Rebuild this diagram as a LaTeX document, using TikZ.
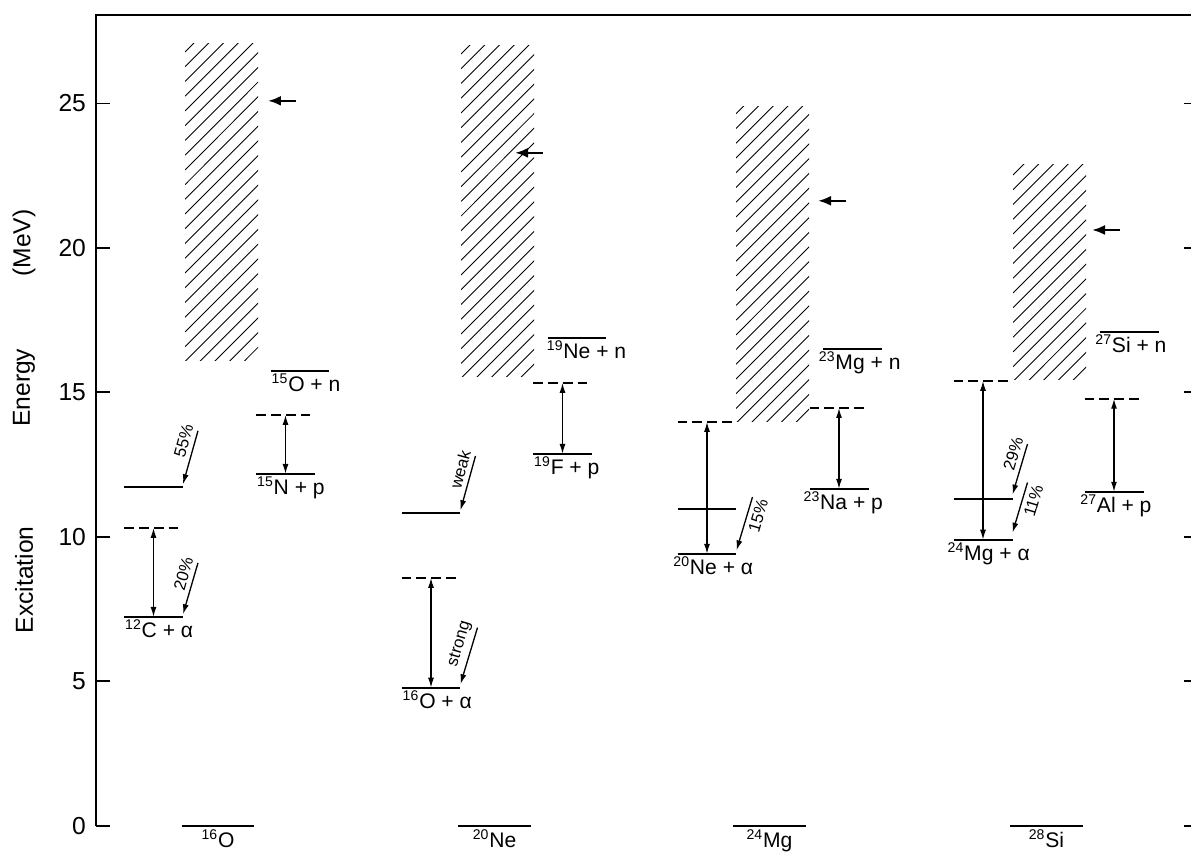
\documentclass[tikz,border=0pt]{standalone}
\usepackage{fontspec}
\setmainfont{Liberation Sans}
\usetikzlibrary{arrows.meta}

\begin{document}
\begin{tikzpicture}[x=0.02cm,y=0.578cm,font=\fontsize{12}{14}\selectfont,
  lvl/.style={inner sep=0pt,outer sep=0pt,minimum height=0pt,minimum width=1.18cm},
  gnd/.style={lvl,minimum width=1.46cm},
  lvline/.style={line width=1.1pt},
  thrline/.style={line width=1.1pt,dash pattern=on 5.5pt off 3pt},
  pair/.style={line width=0.75pt,{Latex[length=2mm,width=1.2mm]}-{Latex[length=2mm,width=1.2mm]}},
  feed/.style={line width=0.75pt,-{Latex[length=2mm,width=1.2mm]}},
  gdr/.style={line width=1.4pt,-{Latex[length=2.6mm,width=2mm]}},
  hatch/.style={line width=0.5pt},
  chan/.style={anchor=north west,inner sep=1.5pt},
  pct/.style={font=\fontsize{9.5}{11}\selectfont,sloped,inner sep=2.5pt},
  num/.style={font=\fontsize{14}{16}\selectfont,anchor=east,inner sep=1pt}]
  \useasboundingbox (0,-0.969) rectangle (1191,28.58);

  % frame and scale
  \draw[line width=1.1pt] (96,0) -- (96,28.05) -- (1191,28.05);
  \foreach \e in {0,5,...,25}{
    \draw[line width=1pt] (96,\e) -- (110,\e);
    \draw[line width=1pt] (1184,\e) -- (1191,\e);
    \node[num] (t\e) at (88,\e) {\e};
  }
  \node[rotate=90,font=\fontsize{14}{16}\selectfont] (xlab) at (24,8.51) {Excitation};
  \node[rotate=90,font=\fontsize{14}{16}\selectfont] (elab) at (24,15.16) {Energy};
  \node[rotate=90,font=\fontsize{14}{16}\selectfont] (mlab) at (24,20.17) {(MeV)};

  % giant resonance regions
  \foreach \x/\lo/\hi in {185/16.12/27.09,461/15.54/26.99,736/13.98/24.9,1013/15.43/22.87}{
    \begin{scope}
      \clip (\x,\lo) rectangle (\x+73,\hi);
      \foreach \k in {0,...,30}
        \draw[hatch] (\x,\lo-2.6+\k*0.51) -- ++(80,2.77);
    \end{scope}
  }
  \foreach \n/\x/\e in {a/268/25.09,b/515/23.29,c/818/21.63,d/1092/20.62}{
    \coordinate (gt\n) at (\x,\e);
    \coordinate (gs\n) at (\x+28,\e);
    \draw[gdr] (gs\n) -- (gt\n);
  }

  % ground states
  \node[gnd] (O16g) at (218,0) {};
  \node[gnd] (Ne20g) at (494.5,0) {};
  \node[gnd] (Mg24g) at (769.5,0) {};
  \node[gnd] (Si28g) at (1046.5,0) {};
  \node[anchor=north,inner sep=2pt] (O16gL) at (O16g.south) {\textsuperscript{16}O};
  \node[anchor=north,inner sep=2pt] (Ne20gL) at (Ne20g.south) {\textsuperscript{20}Ne};
  \node[anchor=north,inner sep=2pt] (Mg24gL) at (Mg24g.south) {\textsuperscript{24}Mg};
  \node[anchor=north,inner sep=2pt] (Si28gL) at (Si28g.south) {\textsuperscript{28}Si};

  % levels and thresholds
  \node[lvl] (o55) at (153.5,11.73) {};
  \node[lvl] (cthr) at (153.5,10.31) {};
  \node[lvl] (c12a) at (153.5,7.23) {};
  \node[lvl] (o15n) at (300,15.74) {};
  \node[lvl] (nthr) at (285.5,14.22) {};
  \node[lvl] (n15p) at (285.5,12.18) {};
  \node[lvl] (neweak) at (431,10.83) {};
  \node[lvl] (othr) at (431,8.58) {};
  \node[lvl] (o16a) at (431,4.78) {};
  \node[lvl] (ne19n) at (577,16.89) {};
  \node[lvl] (fthr) at (562.5,15.33) {};
  \node[lvl] (f19p) at (562.5,12.87) {};
  \node[lvl] (mgthr) at (707,13.98) {};
  \node[lvl] (mgmid) at (707,10.97) {};
  \node[lvl] (ne20a) at (707,9.41) {};
  \node[lvl] (mg23n) at (852.5,16.5) {};
  \node[lvl] (nathr) at (839,14.46) {};
  \node[lvl] (na23p) at (839,11.66) {};
  \node[lvl] (sithr) at (983,15.40) {};
  \node[lvl] (simid) at (983,11.31) {};
  \node[lvl] (mg24a) at (983,9.90) {};
  \node[lvl] (si27n) at (1129,17.09) {};
  \node[lvl] (althr) at (1114,14.78) {};
  \node[lvl] (al27p) at (1114,11.56) {};

  \foreach \n in {O16g,Ne20g,Mg24g,Si28g,o55,c12a,o15n,n15p,neweak,o16a,ne19n,f19p,
                  mgmid,ne20a,mg23n,na23p,simid,mg24a,si27n,al27p}
    \draw[lvline] (\n.west) -- (\n.east);
  \foreach \n in {cthr,nthr,othr,fthr,mgthr,nathr,sithr,althr}
    \draw[thrline] (\n.west) -- (\n.east);

  % channel labels
  \node[chan] (c12aL) at ([xshift=-1pt]c12a.west) {\textsuperscript{12}C + α};
  \node[chan] (o15nL) at ([xshift=-1pt]o15n.west) {\textsuperscript{15}O + n};
  \node[chan] (n15pL) at ([xshift=-1pt]n15p.west) {\textsuperscript{15}N + p};
  \node[chan] (o16aL) at ([xshift=-1pt]o16a.west) {\textsuperscript{16}O + α};
  \node[chan] (ne19nL) at ([xshift=-2pt]ne19n.west) {\textsuperscript{19}Ne + n};
  \node[chan] (f19pL) at ([xshift=-1pt]f19p.west) {\textsuperscript{19}F + p};
  \node[chan] (ne20aL) at ([xshift=-4pt]ne20a.west) {\textsuperscript{20}Ne + α};
  \node[chan] (mg23nL) at ([xshift=-4pt]mg23n.west) {\textsuperscript{23}Mg + n};
  \node[chan] (na23pL) at ([xshift=-5pt]na23p.west) {\textsuperscript{23}Na + p};
  \node[chan] (mg24aL) at ([xshift=-5pt]mg24a.west) {\textsuperscript{24}Mg + α};
  \node[chan] (si27nL) at ([xshift=-4pt]si27n.west) {\textsuperscript{27}Si + n};
  \node[chan] (al27pL) at ([xshift=-4pt]al27p.west) {\textsuperscript{27}Al + p};

  % threshold gaps
  \draw[pair] (cthr) -- (c12a);
  \draw[pair] (nthr) -- (n15p);
  \draw[pair] (othr) -- (o16a);
  \draw[pair] (fthr) -- (f19p);
  \draw[pair] (mgthr) -- (ne20a);
  \draw[pair] (nathr) -- (na23p);
  \draw[pair] (sithr) -- (mg24a);
  \draw[pair] (althr) -- (al27p);

  % decay branches
  \coordinate (s55) at ([shift={(15,1.94)}]o55.east);
  \coordinate (s20) at ([shift={(15,1.87)}]c12a.east);
  \coordinate (sweak) at ([shift={(15,1.97)}]neweak.east);
  \coordinate (sstrong) at ([shift={(17,2.08)}]o16a.east);
  \coordinate (s15) at ([shift={(16,1.97)}]ne20a.east);
  \coordinate (s29) at ([shift={(15,1.9)}]simid.east);
  \coordinate (s11) at ([shift={(15,1.98)}]mg24a.east);
  \draw[feed] (s55) -- ([yshift=1.5pt]o55.east) node[pct,pos=0.25,above] {55\%};
  \draw[feed] (s20) -- ([yshift=1.5pt]c12a.east) node[pct,pos=0.27,above] {20\%};
  \draw[feed] (sweak) -- ([yshift=1.5pt]neweak.east) node[pct,pos=0.3,above] {weak};
  \draw[feed] (sstrong) -- ([yshift=2pt]o16a.east) node[pct,pos=0.35,above] {strong};
  \draw[feed] (s15) -- ([yshift=2pt]ne20a.east) node[pct,pos=0.3,below] {15\%};
  \draw[feed] (s29) -- ([yshift=2.5pt]simid.east) node[pct,pos=0.25,above] {29\%};
  \draw[feed] (s11) -- ([yshift=4pt]mg24a.east) node[pct,pos=0.3,below] {11\%};
\end{tikzpicture}
\end{document}
